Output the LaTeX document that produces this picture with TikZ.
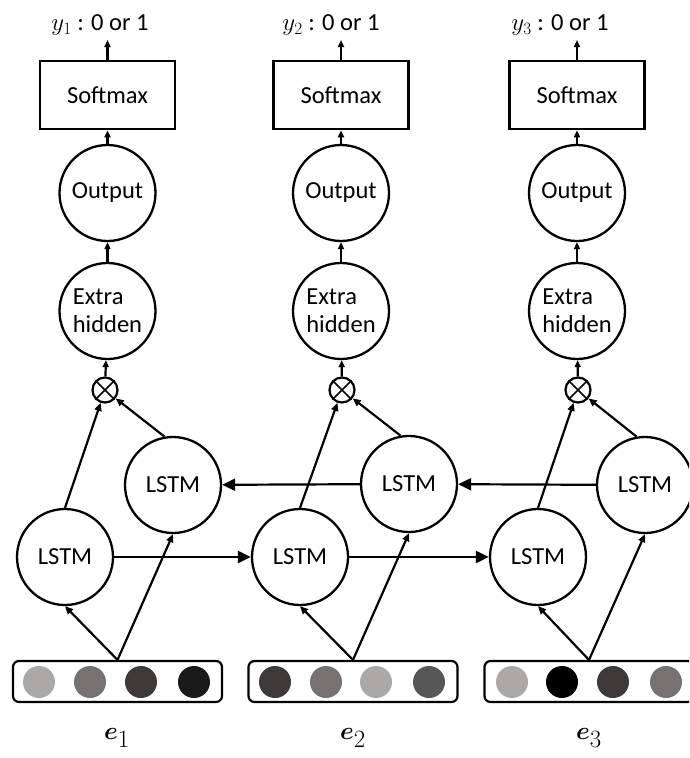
\documentclass[tikz,border=0pt]{standalone}
\usepackage{bm}
\usepackage{fontspec}
\setmainfont{Carlito}
\usetikzlibrary{arrows.meta}
\definecolor{gA}{HTML}{ABA8A8}
\definecolor{gB}{HTML}{767272}
\definecolor{gC}{HTML}{3E3A3A}
\definecolor{gD}{HTML}{1A1A1A}
\definecolor{gE}{HTML}{575757}
\begin{document}
\begin{tikzpicture}[x=1pt,y=-1pt,
  every node/.style={font=\fontsize{24.5}{28}\selectfont},
  unit/.style={draw,circle,line width=2.3pt,minimum size=96pt,inner sep=0pt},
  smbox/.style={draw,line width=2.6pt,minimum width=135pt,minimum height=68pt,inner sep=0pt},
  mult/.style={draw,circle,line width=2.2pt,minimum size=25pt,inner sep=0pt},
  embbox/.style={draw,line width=2.2pt,rounded corners=6pt,minimum width=209pt,minimum height=41pt,inner sep=0pt},
  dot/.style={circle,minimum size=32pt,inner sep=0pt},
  up/.style={line width=2.2pt,-{Triangle[length=7pt,width=6pt]}},
  hor/.style={line width=2.2pt,-{Triangle[length=13pt,width=12pt]}},
  diag/.style={line width=2.2pt,-{Triangle[length=8pt,width=7pt]}},
  xline/.style={line width=1.7pt},
  lab/.style={font=\fontsize{24.5}{28}\selectfont},
  elab/.style={font=\fontsize{34}{40}\selectfont},
]
\useasboundingbox (0,0) rectangle (689,758);
\clip (0,0) rectangle (689,758);

% column nodes
\foreach \i/\cx/\mx in {1/107.5/105, 2/341/342, 3/577/578}{
  \node[smbox] (sm\i) at (\cx,95) {Softmax};
  \node[unit] (out\i) at (\cx,193) {Output};
  \node[unit,align=left] (ex\i) at (\cx,311) {Extra\\hidden};
  \node[mult] (m\i) at (\mx,390) {};
  \coordinate (t\i) at (\cx,40);
  \draw[xline] (m\i.45) -- (m\i.225);
  \draw[xline] (m\i.135) -- (m\i.-45);
}
\node[lab] (y1) at (100,25) {$y_1$ : 0 or 1};
\node[lab] (y2) at (331,25) {$y_2$ : 0 or 1};
\node[lab] (y3) at (560,25) {$y_3$ : 0 or 1};

% LSTM units
\node[unit] (f1) at (65,557) {LSTM};
\node[unit] (f2) at (300,557) {LSTM};
\node[unit] (f3) at (538,557) {LSTM};
\node[unit] (b1) at (173,485) {LSTM};
\node[unit] (b2) at (409,484) {LSTM};
\node[unit] (b3) at (645,485) {LSTM};

% embeddings
\node[embbox] (emb1) at (117.5,681.5) {};
\node[embbox] (emb2) at (353,681.5) {};
\node[embbox] (emb3) at (589,681.5) {};
\node[dot,fill=gA] (d11) at (39,682) {};
\node[dot,fill=gB] (d12) at (90,682) {};
\node[dot,fill=gC] (d13) at (141,682) {};
\node[dot,fill=gD] (d14) at (194,682) {};
\node[dot,fill=gC] (d21) at (275,682) {};
\node[dot,fill=gB] (d22) at (326,682) {};
\node[dot,fill=gA] (d23) at (376,682) {};
\node[dot,fill=gE] (d24) at (429,682) {};
\node[dot,fill=gA] (d31) at (512,682) {};
\node[dot,fill=black] (d32) at (562,682) {};
\node[dot,fill=gC] (d33) at (613,682) {};
\node[dot,fill=gB] (d34) at (666,682) {};

\node[elab] (e1) at (117,738) {$\bm{e}_1$};
\node[elab] (e2) at (353,738) {$\bm{e}_2$};
\node[elab] (e3) at (589,738) {$\bm{e}_3$};

% vertical arrows
\foreach \i in {1,2,3}{
  \draw[up] (sm\i.north) -- (t\i);
  \draw[up] (out\i) -- (sm\i);
  \draw[up] (ex\i) -- (out\i);
  \draw[up] (m\i) -- (ex\i);
  \draw[diag] (f\i.north) -- (m\i);
  \draw[diag] (b\i.100) -- (m\i);
  \draw[diag] (emb\i.north) -- (f\i.south);
  \draw[diag] (emb\i.north) -- (b\i.south);
}

% recurrent arrows
\draw[hor] (f1) -- (f2);
\draw[hor] (f2) -- (f3);
\draw[hor] (b3) -- (b2);
\draw[hor] (b2) -- (b1);
\end{tikzpicture}
\end{document}
